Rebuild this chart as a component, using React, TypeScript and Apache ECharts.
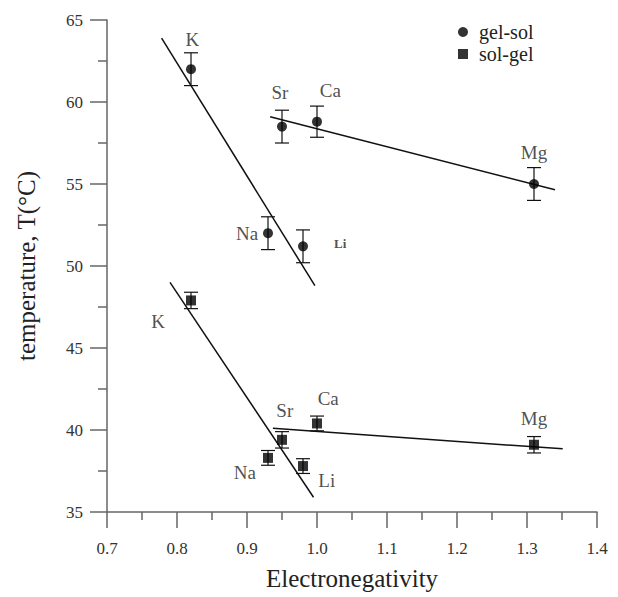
import React, { useEffect, useRef } from "react";
import * as echarts from "echarts";

const elements = ["K", "Na", "Li", "Sr", "Ca", "Mg"];
const electroneg = [0.82, 0.93, 0.98, 0.95, 1.0, 1.31];
const gelSolT = [62.0, 52.0, 51.2, 58.5, 58.8, 55.0];
const gelSolErr = [1.0, 1.0, 1.0, 1.0, 0.95, 1.0];
const solGelT = [47.9, 38.3, 37.8, 39.4, 40.4, 39.1];
const solGelErr = [0.5, 0.45, 0.45, 0.5, 0.45, 0.5];

// label anchor positions (data coords)
const gelSolLabelX = [0.822, 0.9, 1.033, 0.947, 1.019, 1.31];
const gelSolLabelY = [63.8, 52.0, 51.4, 60.6, 60.7, 56.9];
const solGelLabelX = [0.773, 0.897, 1.014, 0.954, 1.016, 1.31];
const solGelLabelY = [46.6, 37.4, 36.95, 41.2, 41.9, 40.7];

// fitted lines
const gelSolFitA = [[0.778, 63.9], [0.997, 48.8]];
const gelSolFitB = [[0.933, 59.1], [1.34, 54.65]];
const solGelFitA = [[0.79, 49.0], [0.995, 35.9]];
const solGelFitB = [[0.937, 40.1], [1.351, 38.85]];

const xTicks = { min: 0.7, max: 1.4, step: 0.1 };
const yTicks = { min: 35, max: 65, step: 5 };

const FONT = "'Liberation Serif', 'Times New Roman', serif";

export default function App() {
  const ref = useRef<HTMLDivElement>(null);
  useEffect(() => {
    document.body.style.margin = "0";
    const chart = echarts.init(ref.current!, null, { renderer: "svg" });
    const errData = (ys: number[], es: number[]) =>
      electroneg.map((x, i) => [x, ys[i] - es[i], ys[i] + es[i]]);
    const errSeries = (name: string, ys: number[], es: number[]) => ({
      type: "custom",
      name,
      silent: true,
      encode: { x: 0, y: [1, 2] },
      data: errData(ys, es),
      renderItem: (params: any, api: any) => {
        const x = api.value(0);
        const lo = api.coord([x, api.value(1)]);
        const hi = api.coord([x, api.value(2)]);
        const w = 7;
        const st = { stroke: "#111", lineWidth: 1.2 };
        return {
          type: "group",
          children: [
            { type: "line", shape: { x1: lo[0], y1: lo[1], x2: hi[0], y2: hi[1] }, style: st },
            { type: "line", shape: { x1: lo[0] - w, y1: lo[1], x2: lo[0] + w, y2: lo[1] }, style: st },
            { type: "line", shape: { x1: hi[0] - w, y1: hi[1], x2: hi[0] + w, y2: hi[1] }, style: st },
          ],
        };
      },
      z: 2,
    });
    const fitSeries = (data: number[][]) => ({
      type: "line",
      data,
      symbol: "none",
      silent: true,
      lineStyle: { color: "#111", width: 1.5 },
      z: 1,
    });
    const labelSeries = (xs: number[], ys: number[], boldLi: boolean) => ({
      type: "scatter",
      silent: true,
      symbolSize: 0,
      itemStyle: { color: "#222" },
      data: xs.map((x, i) => ({
        value: [x, ys[i]],
        label: boldLi && elements[i] === "Li" ? { fontWeight: "bold", fontSize: 13 } : undefined,
      })),
      label: {
        show: true,
        position: "inside",
        formatter: (p: any) => elements[p.dataIndex],
        color: "#222",
        fontFamily: FONT,
        fontSize: 19,
      },
      z: 5,
    });
    chart.setOption({
      animation: false,
      backgroundColor: "#fff",
      textStyle: { fontFamily: FONT },
      grid: { left: 107, right: 21, top: 20, bottom: 85 },
      legend: {
        orient: "vertical",
        left: 453,
        top: 17,
        itemWidth: 10,
        itemHeight: 10,
        itemGap: 2,
        data: [
          { name: "gel-sol", icon: "circle" },
          { name: "sol-gel", icon: "rect" },
        ],
        textStyle: { fontFamily: FONT, fontSize: 20, color: "#222", lineHeight: 20, padding: [0, 0, 0, 6] },
      },
      xAxis: {
        type: "value",
        min: xTicks.min,
        max: xTicks.max,
        interval: xTicks.step,
        name: "Electronegativity",
        nameLocation: "middle",
        nameGap: 54,
        nameTextStyle: { fontFamily: FONT, fontSize: 25, color: "#222" },
        axisLine: { onZero: false, lineStyle: { color: "#666", width: 1.5 } },
        axisTick: { show: true, length: 16, lineStyle: { color: "#666", width: 1.5 } },
        minorTick: { show: true, splitNumber: 2, length: 8, lineStyle: { color: "#666", width: 1.5 } },
        splitLine: { show: false },
        axisLabel: {
          margin: 28,
          fontFamily: FONT,
          fontSize: 17,
          color: "#333",
          formatter: (v: number) => v.toFixed(1),
        },
      },
      yAxis: {
        type: "value",
        min: yTicks.min,
        max: yTicks.max,
        interval: yTicks.step,
        name: "temperature, T(°C)",
        nameLocation: "middle",
        nameGap: 68,
        nameTextStyle: { fontFamily: FONT, fontSize: 25, color: "#222" },
        axisLine: { onZero: false, lineStyle: { color: "#666", width: 1.5 } },
        axisTick: { show: true, length: 17, lineStyle: { color: "#666", width: 1.5 } },
        minorTick: { show: true, splitNumber: 2, length: 9, lineStyle: { color: "#666", width: 1.5 } },
        splitLine: { show: false },
        axisLabel: { margin: 24, fontFamily: FONT, fontSize: 17, color: "#333" },
      },
      series: [
        fitSeries(gelSolFitA),
        fitSeries(gelSolFitB),
        fitSeries(solGelFitA),
        fitSeries(solGelFitB),
        errSeries("gelErr", gelSolT, gelSolErr),
        errSeries("solErr", solGelT, solGelErr),
        {
          type: "scatter",
          name: "gel-sol",
          symbol: "circle",
          symbolSize: 10,
          itemStyle: { color: "#000" },
          data: electroneg.map((x, i) => [x, gelSolT[i]]),
          z: 3,
        },
        {
          type: "scatter",
          name: "sol-gel",
          symbol: "rect",
          symbolSize: 10,
          itemStyle: { color: "#000" },
          data: electroneg.map((x, i) => [x, solGelT[i]]),
          z: 3,
        },
        labelSeries(gelSolLabelX, gelSolLabelY, true),
        labelSeries(solGelLabelX, solGelLabelY, false),
      ],
    });
    return () => chart.dispose();
  }, []);
  return <div ref={ref} style={{ width: 618, height: 597 }} />;
}
